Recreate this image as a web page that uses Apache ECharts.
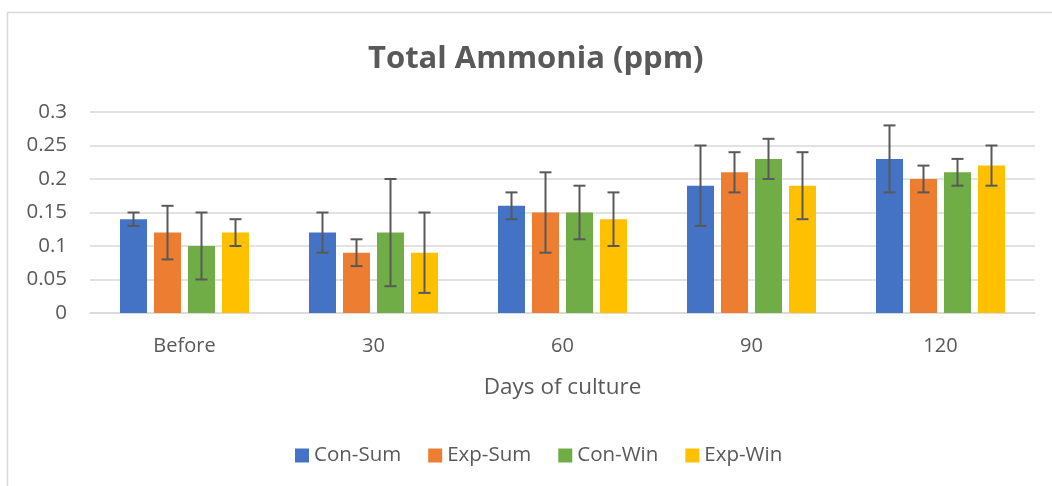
<!DOCTYPE html>
<html>
<head>
<meta charset="utf-8">
<script src="https://cdn.jsdelivr.net/npm/echarts@6/dist/echarts.min.js"></script>
<style>
  html, body { margin: 0; padding: 0; background: #fff; }
  #chart { width: 1052px; height: 486px; }
</style>
</head>
<body>
<div id="chart"></div>
<script>
// days of culture
const categories = ['Before', '30', '60', '90', '120']
const seriesNames = ['Con-Sum', 'Exp-Sum', 'Con-Win', 'Exp-Win']
const colors = ['#4472C4', '#ED7D31', '#70AD47', '#FFC000']

// means (ppm)
const conSum = [0.14, 0.12, 0.16, 0.19, 0.23]
const expSum = [0.12, 0.09, 0.15, 0.21, 0.20]
const conWin = [0.10, 0.12, 0.15, 0.23, 0.21]
const expWin = [0.12, 0.09, 0.14, 0.19, 0.22]

// error bar (+/-)
const conSumErr = [0.01, 0.03, 0.02, 0.06, 0.05]
const expSumErr = [0.04, 0.02, 0.06, 0.03, 0.02]
const conWinErr = [0.05, 0.08, 0.04, 0.03, 0.02]
const expWinErr = [0.02, 0.06, 0.04, 0.05, 0.03]

const yTicks = [0, 0.05, 0.1, 0.15, 0.2, 0.25, 0.3]

const means = [conSum, expSum, conWin, expWin]
const errs = [conSumErr, expSumErr, conWinErr, expWinErr]

const textColor = '#595959'
const font = 'Open Sans'
const barWidth = 27
const barGap = 7

const chart = echarts.init(document.getElementById('chart'), null, { renderer: 'canvas' })

// error bars drawn on top of each bar, offset inside the category band
function errorSeries(idx) {
  return {
    type: 'custom',
    name: seriesNames[idx] + ' err',
    silent: true,
    z: 10,
    data: categories.map((c, i) => [i, means[idx][i] - errs[idx][i], means[idx][i] + errs[idx][i]]),
    renderItem(params, api) {
      const offset = (idx - 1.5) * (barWidth + barGap)
      const lo = api.coord([api.value(0), api.value(1)])
      const hi = api.coord([api.value(0), api.value(2)])
      const x = lo[0] + offset
      const half = 6
      const style = { stroke: '#595959', lineWidth: 2 }
      return {
        type: 'group',
        children: [
          { type: 'line', shape: { x1: x, y1: lo[1], x2: x, y2: hi[1] }, style },
          { type: 'line', shape: { x1: x - half, y1: lo[1], x2: x + half, y2: lo[1] }, style },
          { type: 'line', shape: { x1: x - half, y1: hi[1], x2: x + half, y2: hi[1] }, style }
        ]
      }
    }
  }
}

const option = {
  animation: false,
  color: colors,
  title: {
    text: 'Total Ammonia (ppm)',
    left: 363,
    top: 39,
    textStyle: { fontFamily: font, fontSize: 31, fontWeight: 'bold', color: textColor }
  },
  graphic: [{
    type: 'rect',
    shape: { x: 7.5, y: 12.5, width: 1060, height: 500 },
    style: { fill: 'none', stroke: '#D9D9D9', lineWidth: 1.5 },
    silent: true
  }],
  legend: {
    data: seriesNames,
    bottom: 15,
    left: 290,
    icon: 'rect',
    itemWidth: 14,
    itemHeight: 14,
    itemGap: 27,
    textStyle: { fontFamily: font, fontSize: 20.5, color: textColor }
  },
  grid: { left: 90, right: 17, top: 112, bottom: 173, containLabel: false },
  xAxis: {
    type: 'category',
    data: categories,
    name: 'Days of culture',
    nameLocation: 'middle',
    nameGap: 63,
    nameTextStyle: { fontFamily: font, fontSize: 22.5, color: textColor },
    axisLine: { lineStyle: { color: '#D9D9D9', width: 1.5 } },
    axisTick: { show: false },
    axisLabel: { fontFamily: font, fontSize: 20, color: textColor, margin: 23 }
  },
  yAxis: {
    type: 'value',
    min: yTicks[0],
    max: yTicks[yTicks.length - 1],
    interval: 0.05,
    axisLine: { show: false },
    axisTick: { show: false },
    splitLine: { lineStyle: { color: '#D9D9D9', width: 1.5 } },
    axisLabel: {
      fontFamily: font, fontSize: 20.5, color: textColor, margin: 23,
      formatter: v => String(Math.round(v * 100) / 100)
    }
  },
  series: [
    ...seriesNames.map((name, idx) => ({
      type: 'bar',
      name,
      data: means[idx],
      barWidth,
      barGap: (barGap / barWidth * 100) + '%',
      itemStyle: { color: colors[idx] }
    })),
    ...seriesNames.map((n, idx) => errorSeries(idx))
  ]
}

chart.setOption(option)
</script>
</body>
</html>
